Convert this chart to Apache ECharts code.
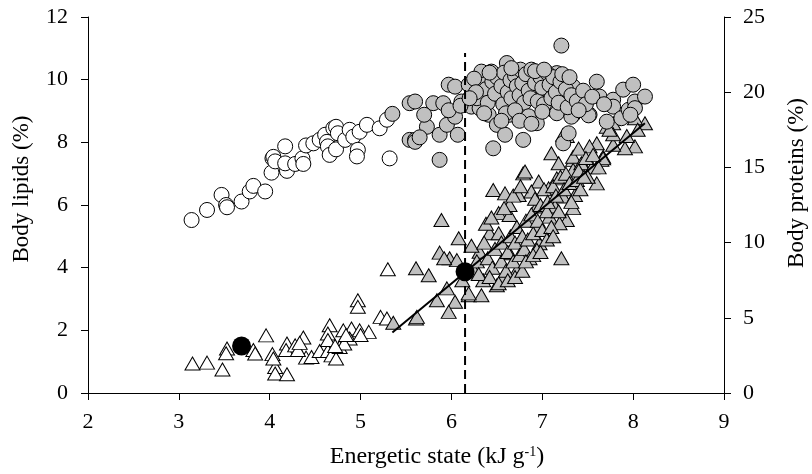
<!DOCTYPE html>
<html>
<head>
<meta charset="utf-8">
<script src="https://cdn.jsdelivr.net/npm/echarts@6/dist/echarts.min.js"></script>
<style>html,body{margin:0;padding:0;background:#fff}#c{width:812px;height:474px}</style>
</head>
<body>
<div id="c"></div>
<script>
// Tick values
const xTicks = [2, 3, 4, 5, 6, 7, 8, 9];
const lipidTicks = [0, 2, 4, 6, 8, 10, 12];
const proteinTicks = [0, 5, 10, 15, 20, 25];

// Body proteins (%) — open circles (low energetic state)
const proteinsOpen = [
  [3.14,11.5],[3.31,12.17],[3.47,13.17],[3.52,12.5],[3.53,12.35],[3.69,12.73],[3.78,13.4],[3.82,13.77],
  [3.95,13.4],[4.02,14.65],[4.03,15.6],[4.04,15.7],[4.06,15.4],[4.17,16.4],[4.19,14.77],[4.17,15.27],
  [4.28,15.23],[4.36,15.6],[4.37,15.23],[4.40,16.46],[4.48,16.6],[4.55,16.83],[4.61,17.17],[4.63,16.7],
  [4.64,16.4],[4.66,15.83],[4.70,17.6],[4.73,17.7],[4.75,17.27],[4.73,16.2],[4.83,16.83],[4.88,17.5],
  [4.92,17.04],[4.97,16.17],[4.96,15.73],[4.99,17.37],[5.07,17.83],[5.21,17.6],[5.29,18.17],[5.32,15.6]
];

// Body proteins (%) — grey circles (high energetic state)
const proteinsGrey = [
  [5.35,18.56],[5.54,19.27],[5.54,16.83],[5.60,19.38],[5.60,16.83],[5.60,16.7],[5.73,17.7],[5.80,19.27],
  [5.87,15.5],[5.87,17.17],[5.91,19.27],[5.95,17.83],[5.97,20.5],[6.04,18.37],[6.04,20.37],[6.07,17.17],
  [6.13,19.27],[6.11,19.38],[6.19,20.5],[6.22,19.04],[6.33,21.37],[6.35,20.5],[6.31,18.94],[6.41,18.5],
  [6.46,16.27],[6.50,17.83],[6.52,19.71],[6.44,21.37],[6.61,21.94],[6.59,17.17],[6.64,18.5],[6.68,21.37],
  [6.72,19.5],[6.79,16.83],[6.83,20.94],[6.90,21.27],[6.94,17.94],[6.97,20.17],[7.05,20.83],[7.12,18.83],
  [7.16,21.27],[7.21,23.1],[7.25,19.5],[7.23,16.6],[7.29,17.27],[7.16,18.6],[7.34,20.37],[7.34,18.5],
  [7.43,19.04],[7.52,18.5],[7.60,20.7],[7.63,19.71],[7.71,18.04],[7.78,19.5],[7.78,19.04],[7.89,20.17],
  [7.87,18.27],[7.95,18.83],[8.00,20.5],[8.02,19.38],[8.13,19.71],[8.02,18.94],[7.97,18.5],[7.51,18.46],
  [7.32,18.37],[5.70,18.5],[5.65,17.0],[5.97,18.8],[6.10,19.1],
  [6.25,20.9],[6.28,19.6],[6.38,20.2],[6.40,19.3],[6.45,20.7],[6.48,19.9],[6.50,21.0],[6.55,20.4],
  [6.57,19.2],[6.58,21.3],[6.62,20.0],[6.65,20.8],[6.66,19.6],[6.70,21.1],[6.72,20.4],[6.75,19.8],
  [6.76,21.5],[6.78,20.6],[6.80,19.3],[6.82,21.2],[6.85,20.1],[6.87,19.6],[6.88,21.5],[6.92,20.6],
  [6.95,19.4],[6.98,21.0],[7.00,20.3],[7.02,19.2],[7.05,21.3],[7.08,20.5],[7.10,19.6],[7.12,21.0],
  [7.15,20.0],[7.18,19.3],[7.20,20.7],[7.22,21.2],[7.26,20.2],[7.28,19.0],[7.30,21.0],[7.32,19.8],
  [6.60,18.6],[6.70,18.8],[6.85,18.4],[7.00,18.7],[6.55,18.1],[6.36,18.6],[6.27,20.0],[6.20,19.6],
  [6.42,21.3],[6.66,21.6],[6.92,21.4],[7.02,21.5],[6.75,18.1],[7.38,19.4],[7.45,20.1],[7.48,19.2],
  [7.55,19.7],[7.68,19.2],[7.40,18.8],[6.88,17.9]
];

// Body lipids (%) — open triangles
const lipidsOpen = [
  [3.15,0.94],[3.31,0.97],[3.48,0.75],[3.53,1.42],[3.52,1.27],[3.82,1.37],[3.84,1.26],[3.96,1.84],
  [4.03,1.24],[4.06,0.83],[4.06,0.62],[4.19,0.6],[4.19,1.58],[4.18,1.37],[4.28,1.52],[4.37,1.77],
  [4.40,1.13],[4.31,1.37],[4.46,1.15],[4.55,1.34],[4.64,1.34],[4.66,2.16],[4.64,1.9],[4.64,1.69],
  [4.68,1.2],[4.73,1.1],[4.77,1.47],[4.81,2.0],[4.90,2.06],[4.99,2.0],[5.09,1.95],[4.88,1.74],
  [4.97,2.96],[4.97,2.75],[5.22,2.43],[5.29,2.38],[5.30,3.95],[4.82,1.58],[4.04,1.1],[4.33,1.6],
  [4.72,1.5],[4.84,1.85],[5.00,1.85]
];

// Body lipids (%) — grey triangles
const lipidsGrey = [
  [5.36,2.24],[5.61,2.38],[5.61,3.98],[5.75,3.76],[5.62,2.43],[5.89,5.52],[6.08,4.94],[5.87,4.48],
  [5.98,4.30],[6.06,4.24],[5.92,4.3],[5.95,3.34],[5.84,2.96],[6.04,2.91],[5.97,2.59],[6.19,3.12],
  [6.33,3.12],[6.35,3.6],[6.31,4.51],[6.42,5.1],[6.52,5.1],[6.46,6.48],[6.59,6.37],[6.74,6.32],
  [6.52,5.74],[6.64,5.68],[6.64,6.0],[6.79,7.01],[6.64,4.46],[6.72,3.92],[6.57,3.71],[6.50,3.44],
  [6.86,5.52],[6.94,5.95],[6.19,3.18],[6.12,3.6],[6.25,3.9],[6.28,4.2],[6.22,4.7],
  [8.13,8.61],[8.02,7.87],[7.91,7.81],[7.78,7.92],[7.60,7.97],[7.52,7.87],[7.78,8.61],[7.78,8.26],
  [7.65,7.44],[7.60,6.69],[7.34,7.44],[7.45,7.28],[7.10,7.65],[7.23,8.24],[7.27,8.2],[7.34,7.12],
  [7.16,6.85],[6.96,6.75],[7.07,6.53],[7.23,6.27],[7.36,6.32],[7.34,5.9],[7.27,5.52],[7.21,4.30],
  [6.94,5.26],[6.97,4.78],[7.14,5.95],[7.08,5.63],[7.19,5.42],[6.94,4.57],[6.81,7.07],[7.18,7.33],
  [7.34,7.54],[7.43,7.33],[7.67,7.54],[8.02,8.77],[7.71,8.5],[6.88,6.43],[7.67,7.49],[7.74,8.4],
  [8.05,8.4],[7.93,8.2],[7.40,7.8],[7.55,7.2],[7.50,6.9],
  [6.40,4.3],[6.45,4.0],[6.48,4.6],[6.55,4.2],[6.55,4.8],[6.60,3.9],[6.62,4.5],[6.65,5.0],
  [6.68,4.2],[6.70,4.8],[6.72,5.3],[6.75,4.4],[6.78,5.0],[6.80,4.6],[6.82,5.5],[6.84,4.9],
  [6.86,4.3],[6.88,5.7],[6.90,5.1],[6.92,6.2],[6.95,5.5],[6.98,6.0],[7.00,5.2],[7.02,6.5],
  [7.05,5.8],[7.06,6.1],[7.10,5.3],[7.12,6.6],[7.15,6.3],[7.18,5.8],[7.20,6.9],[7.24,6.5],
  [7.26,7.0],[7.30,6.7],[7.32,6.1],[7.38,6.8],[7.40,7.1],[7.42,6.5],[7.46,6.9],[7.48,7.5],
  [7.56,7.6],[7.62,7.2],[6.36,4.8],[6.38,5.4],[6.44,5.6],[6.58,5.9],[6.68,6.3],[6.76,6.6],
  [6.30,3.8],[6.42,3.7],[6.52,3.5],[6.62,3.6],[6.70,3.7],[6.78,3.9],[6.82,4.2],[6.90,4.4],
  [6.98,4.5],[7.05,4.9],[7.12,5.0]
];

// Fitted lipid line and mean points
const lipidFit = [[5.35,1.93],[8.13,8.61]];
const lipidMeans = [[3.69,1.50],[6.15,3.87]];
// Threshold energetic state (dashed vertical)
const threshold = [[6.15,0],[6.15,10.85]];

const FONT = '"Liberation Serif","Times New Roman",serif';
const LABEL_SIZE = 22;
const NAME_SIZE = 23;
const chart = echarts.init(document.getElementById('c'), null, {renderer:'canvas'});
const axisCommon = {
  axisLine:{show:true,lineStyle:{color:'#000',width:1}},
  axisTick:{show:true,inside:false,length:7,lineStyle:{color:'#000',width:1}},
  splitLine:{show:false},
  axisLabel:{color:'#000',fontFamily:FONT,fontSize:LABEL_SIZE}
};
chart.setOption({
  animation:false,
  backgroundColor:'#fff',
  grid:{left:88,right:88,top:17,bottom:81,containLabel:false,outerBoundsMode:'none'},
  xAxis:Object.assign({}, axisCommon, {
    type:'value',min:xTicks[0],max:xTicks[xTicks.length-1],interval:1,
    axisLabel:Object.assign({}, axisCommon.axisLabel,{margin:18}),
    name:'Energetic state (kJ g{sup|-1})',nameLocation:'middle',nameGap:52,
    nameTextStyle:{color:'#000',fontFamily:FONT,fontSize:24,padding:[0,0,0,62],
      rich:{sup:{fontFamily:FONT,fontSize:14,verticalAlign:'top',padding:[0,0,10,0],color:'#000'}}}
  }),
  yAxis:[
    Object.assign({}, axisCommon, {
      type:'value',position:'left',min:lipidTicks[0],max:lipidTicks[lipidTicks.length-1],interval:2,
      axisLabel:Object.assign({}, axisCommon.axisLabel,{margin:20}),
      name:'Body lipids (%)',nameLocation:'middle',nameGap:55,nameRotate:90,
      nameTextStyle:{color:'#000',fontFamily:FONT,fontSize:NAME_SIZE,padding:[0,0,0,32]}
    }),
    Object.assign({}, axisCommon, {
      type:'value',position:'right',min:proteinTicks[0],max:proteinTicks[proteinTicks.length-1],interval:5,
      axisLabel:Object.assign({}, axisCommon.axisLabel,{margin:19}),
      name:'Body proteins (%)',nameLocation:'middle',nameGap:61,nameRotate:90,
      nameTextStyle:{color:'#000',fontFamily:FONT,fontSize:NAME_SIZE,padding:[0,0,0,44]}
    })
  ],
  series:[
    {type:'scatter',name:'lipidsOpen',yAxisIndex:0,data:lipidsOpen,symbol:'triangle',symbolSize:[15,13],
     itemStyle:{color:'#fff',borderColor:'#000',borderWidth:1,opacity:1},z:2},
    {type:'scatter',name:'lipidsGrey',yAxisIndex:0,data:lipidsGrey,symbol:'triangle',symbolSize:[15,13],
     itemStyle:{color:'#c0c0c0',borderColor:'#000',borderWidth:1,opacity:1},z:2},
    {type:'scatter',name:'proteinsOpen',yAxisIndex:1,data:proteinsOpen,symbol:'circle',symbolSize:15,
     itemStyle:{color:'#fff',borderColor:'#000',borderWidth:1,opacity:1},z:3},
    {type:'scatter',name:'proteinsGrey',yAxisIndex:1,data:proteinsGrey,symbol:'circle',symbolSize:15,
     itemStyle:{color:'#c0c0c0',borderColor:'#000',borderWidth:1,opacity:1},z:3},
    {type:'line',yAxisIndex:0,data:lipidFit,showSymbol:false,symbol:'none',
     lineStyle:{color:'#000',width:2},z:4},
    {type:'line',yAxisIndex:0,data:threshold,showSymbol:false,symbol:'none',
     lineStyle:{color:'#000',width:2,type:[9,5]},z:5},
    {type:'scatter',yAxisIndex:0,data:lipidMeans,symbol:'circle',symbolSize:19,
     itemStyle:{color:'#000',borderColor:'#000',borderWidth:0,opacity:1},z:6}
  ]
});
</script>
</body>
</html>
